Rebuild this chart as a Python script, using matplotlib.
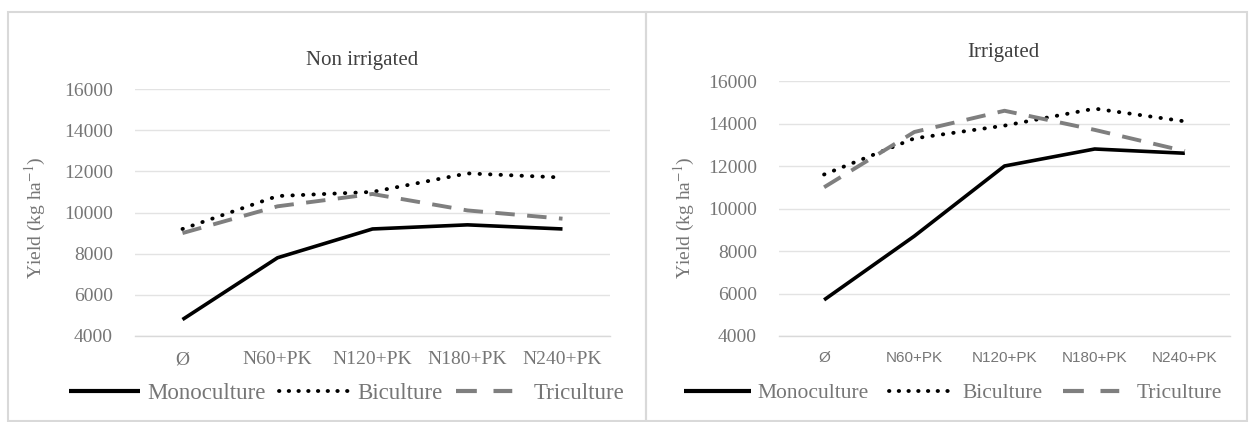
import matplotlib
matplotlib.use("Agg")
import matplotlib.pyplot as plt
from matplotlib.patches import Rectangle
from matplotlib.lines import Line2D

categories = ["Ø", "N60+PK", "N120+PK", "N180+PK", "N240+PK"]
y_ticks = [4000, 6000, 8000, 10000, 12000, 14000, 16000]

non_irr_mono = [4800, 7800, 9200, 9400, 9200]
non_irr_bi = [9200, 10800, 11000, 11900, 11700]
non_irr_tri = [9000, 10300, 10900, 10100, 9700]

irr_mono = [5700, 8700, 12000, 12800, 12600]
irr_bi = [11600, 13300, 13900, 14700, 14100]
irr_tri = [11000, 13600, 14600, 13700, 12700]

series_names = ["Monoculture", "Biculture", "Triculture"]

W, H = 1254, 422
fig = plt.figure(figsize=(W / 100, H / 100), dpi=100)
fig.patch.set_facecolor("white")

SERIF = ["Liberation Serif", "DejaVu Serif"]
SANS = ["Liberation Sans", "DejaVu Sans"]
GRAY_TXT = "#767676"
GRID = "#e3e3e3"


def px(x0, y0, x1, y1):
    return [x0 / W, 1 - y1 / H, (x1 - x0) / W, (y1 - y0) / H]


# panel borders
for (x0, x1) in [(8, 646), (646, 1247)]:
    fig.patches.append(Rectangle((x0 / W, 1 - 421 / H), (x1 - x0) / W, (421 - 12) / H,
                                 transform=fig.transFigure, fill=False,
                                 edgecolor="#d9d9d9", linewidth=1.5))

styles = [
    dict(color="black", linestyle="-", linewidth=2.6, solid_capstyle="butt"),
    dict(color="black", linestyle=(0, (0.1, 2.6)), linewidth=2.8, dash_capstyle="round"),
    dict(color="#7f7f7f", linestyle=(0, (5, 3.2)), linewidth=2.8),
]
legend_styles = [
    dict(color="black", linestyle="-", linewidth=3.0, solid_capstyle="butt"),
    dict(color="black", linestyle=(0, (0.1, 2.4)), linewidth=2.8, dash_capstyle="round"),
    dict(color="#7f7f7f", linestyle=(0, (5, 4, 4.5, 20)), linewidth=3.0),
]


def make_panel(rect, title, title_xy, mono, bi, tri, ylabel_x, xtick_font, xtick_size):
    ax = fig.add_axes(rect)
    x = list(range(len(categories)))
    for vals, st in zip([mono, bi, tri], styles):
        ax.plot(x, vals, **st, zorder=3)
    ax.set_xlim(-0.5, len(categories) - 0.5)
    ax.set_ylim(4000, 16000)
    ax.set_yticks(y_ticks)
    ax.set_yticklabels([str(v) for v in y_ticks], fontfamily=SERIF, fontsize=14,
                       color=GRAY_TXT)
    ax.set_xticks(x)
    ax.set_xticklabels(categories, fontfamily=xtick_font, fontsize=xtick_size,
                       color=GRAY_TXT)
    ax.tick_params(length=0, pad=11)
    ax.tick_params(axis="y", pad=16)
    ax.grid(axis="y", color=GRID, linewidth=1.0)
    ax.set_axisbelow(True)
    for s in ["top", "right", "left"]:
        ax.spines[s].set_visible(False)
    ax.spines["bottom"].set_color("#d9d9d9")
    ax.spines["bottom"].set_linewidth(1.0)
    fig.text(title_xy[0] / W, 1 - title_xy[1] / H, title, ha="center", va="center",
             fontfamily=SERIF, fontsize=15, color="#404040")
    fig.text(ylabel_x / W, 1 - 218 / H, "Yield (kg ha$^{-1}$)", rotation=90,
             ha="center", va="center", fontfamily=SERIF, fontsize=14, color=GRAY_TXT,
             math_fontfamily="stix")
    return ax


make_panel(px(135, 89, 610, 336), "Non irrigated", (362, 60),
           non_irr_mono, non_irr_bi, non_irr_tri, 35, SERIF, 14)
make_panel(px(779, 81, 1230, 336), "Irrigated", (1003, 52),
           irr_mono, irr_bi, irr_tri, 684, SANS, 11)

handles = [Line2D([0], [0], **st) for st in legend_styles]
for cx, fs, cs in [(347, 16.5, 0.6), (953, 15.5, 0.95)]:
    fig.legend(handles, series_names, loc="center", bbox_to_anchor=(cx / W, 1 - 393 / H),
               ncol=3, frameon=False, handlelength=3.1, handletextpad=0.3,
               columnspacing=cs,
               prop=dict(family=SERIF, size=fs), labelcolor=GRAY_TXT)

fig.savefig("out.png", dpi=100, facecolor="white")
